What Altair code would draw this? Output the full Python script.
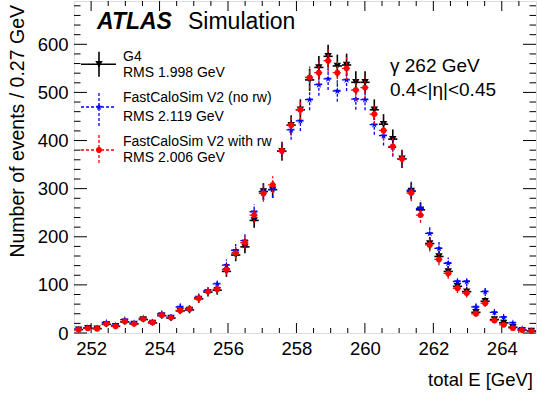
import altair as alt
import pandas as pd
import numpy as np

FONT = "Liberation Sans"

# ---- histogram binning ----
e_lo = 251.5
e_hi = 265.0
bin_w = 0.27

# ---- bin contents ----
g4 = [7, 10, 9, 18, 14, 23, 19, 28, 21, 36,
      31, 46, 48, 71, 85, 89, 128, 162, 179, 234,
      294, 298, 378, 432, 464, 526, 552, 575, 555, 557,
      521, 521, 464, 434, 403, 362, 295, 256, 186, 159,
      128, 97, 86, 43, 66, 28, 21, 12, 6, 4]
fcs_norw = [8, 11, 10, 22, 16, 28, 21, 31, 23, 40,
            33, 54, 51, 74, 88, 102, 141, 172, 192, 252,
            294, 298, 378, 422, 441, 485, 516, 528, 503, 526,
            486, 485, 433, 410, 386, 362, 297, 259, 207, 176,
            145, 107, 107, 54, 86, 43, 33, 21, 9, 5]
fcs_rw = [7, 10, 9, 19, 14, 24, 19, 29, 22, 37,
          32, 47, 50, 72, 86, 91, 132, 166, 188, 245,
          290, 308, 379, 432, 464, 531, 541, 566, 541, 550,
          505, 510, 455, 421, 388, 362, 291, 245, 183, 153,
          124, 93, 83, 40, 62, 26, 17, 10, 6, 4]

series_names = ["G4", "FastCaloSim V2 (no rw)", "FastCaloSim V2 with rw"]
rms_labels = ["RMS 1.998 GeV", "RMS 2.119 GeV", "RMS 2.006 GeV"]

x_labels = [252, 254, 256, 258, 260, 262, 264]
y_labels = [0, 100, 200, 300, 400, 500, 600]
x_minor = [v / 2 for v in range(505, 530) if v % 4 != 0]
y_minor = [v for v in range(20, 690, 20) if v % 100 != 0]

W, H = 462, 332
x_scale = alt.Scale(domain=[e_lo, e_hi], nice=False, zero=False)
y_scale = alt.Scale(domain=[0, 690], nice=False, zero=True)

X_AX = alt.Axis(values=x_labels, ticks=False, tickSize=0, domain=False, grid=False,
                labelFont=FONT, labelFontSize=18.5, labelColor="black",
                labelPadding=6, labelFlush=False, title=None, format="d")
Y_AX = alt.Axis(values=y_labels, ticks=False, tickSize=0, domain=False, grid=False,
                labelFont=FONT, labelFontSize=18.5, labelColor="black",
                labelPadding=6, title=None, format="d")


def make_df(vals):
    v = np.array(vals, dtype=float)
    c = e_lo + bin_w * (np.arange(len(v)) + 0.5)
    err = np.sqrt(v)
    return pd.DataFrame({"x": c, "xlo": c - bin_w / 2, "xhi": c + bin_w / 2,
                         "v": v, "lo": v - err, "hi": v + err})


STAR = ("M0,-1L0.2245,-0.309L0.951,-0.309L0.3633,0.118L0.5878,0.809L0,0.382"
        "L-0.5878,0.809L-0.3633,0.118L-0.951,-0.309L-0.2245,-0.309Z")


def series(vals, color, shape, size, dash_h, dash_v, width):
    base = alt.Chart(make_df(vals))
    hk = dict(color=color, strokeWidth=width)
    if dash_h:
        hk["strokeDash"] = dash_h
    vk = dict(color=color, strokeWidth=width)
    if dash_v:
        vk["strokeDash"] = dash_v
    hbar = base.mark_rule(**hk).encode(
        x=alt.X("xlo:Q", scale=x_scale, axis=X_AX), x2="xhi:Q",
        y=alt.Y("v:Q", scale=y_scale, axis=Y_AX))
    vbar = base.mark_rule(**vk).encode(
        x=alt.X("x:Q", scale=x_scale, axis=X_AX),
        y=alt.Y("lo:Q", scale=y_scale, axis=Y_AX), y2="hi:Q")
    pts = base.mark_point(filled=True, shape=shape, size=size, color=color,
                          opacity=1, strokeWidth=0).encode(
        x=alt.X("x:Q", scale=x_scale, axis=X_AX),
        y=alt.Y("v:Q", scale=y_scale, axis=Y_AX))
    return [hbar, vbar, pts]


def ticks_y(vals, length):
    d = alt.Chart(pd.DataFrame({"t": vals}))
    left = d.mark_rule(color="black", strokeWidth=1).encode(
        y=alt.Y("t:Q", scale=y_scale, axis=Y_AX), x=alt.value(0), x2=alt.value(length))
    right = d.mark_rule(color="black", strokeWidth=1).encode(
        y=alt.Y("t:Q", scale=y_scale, axis=Y_AX), x=alt.value(W), x2=alt.value(W - length))
    return [left, right]


def ticks_x(vals, length):
    d = alt.Chart(pd.DataFrame({"t": vals}))
    bot = d.mark_rule(color="black", strokeWidth=1).encode(
        x=alt.X("t:Q", scale=x_scale, axis=X_AX), y=alt.value(H), y2=alt.value(H - length))
    top = d.mark_rule(color="black", strokeWidth=1).encode(
        x=alt.X("t:Q", scale=x_scale, axis=X_AX), y=alt.value(0), y2=alt.value(length))
    return [bot, top]


ONE = alt.Data(values=[{"a": 1}])


def label(text, x, y, size, align="left", baseline="middle", angle=None, **kw):
    mk = dict(text=text, font=FONT, fontSize=size, align=align, baseline=baseline,
              color="black")
    if angle is not None:
        mk["angle"] = angle
    mk.update(kw)
    return alt.Chart(ONE).mark_text(**mk).encode(x=alt.value(x), y=alt.value(y))


def leg_entry(color, shape, size, y, vtop, vbot, dash_h, dash_v, width):
    hk = dict(color=color, strokeWidth=width)
    if dash_h:
        hk["strokeDash"] = dash_h
    vk = dict(color=color, strokeWidth=width)
    if dash_v:
        vk["strokeDash"] = dash_v
    c = alt.Chart(ONE)
    return [
        c.mark_rule(**hk).encode(x=alt.value(7), x2=alt.value(42), y=alt.value(y)),
        c.mark_rule(**vk).encode(x=alt.value(25), y=alt.value(vtop), y2=alt.value(vbot)),
        c.mark_point(filled=True, shape=shape, size=size, color=color, opacity=1,
                     strokeWidth=0).encode(x=alt.value(25), y=alt.value(y)),
    ]


layers = []
layers += ticks_y(y_labels, 13) + ticks_y(y_minor, 6.5)
layers += ticks_x(x_labels, 10) + ticks_x(x_minor, 5)

BLUE_DASH = [3, 2]
RED_DASH = [3, 2]
layers += series(g4, "black", "triangle-down", 55, None, None, 1.6)
layers += series(fcs_norw, "#0000ff", STAR, 55, BLUE_DASH, [3, 2], 1.3)
layers += series(fcs_rw, "#ff0000", "circle", 34, RED_DASH, [3, 2], 1.3)

# legend
layers += leg_entry("black", "triangle-down", 55, 63.3, 50.7, 75.7, None, None, 1.6)
layers += leg_entry("#0000ff", STAR, 55, 106, 92, 125, BLUE_DASH, [3, 2], 1.3)
layers += leg_entry("#ff0000", "circle", 34, 149, 134, 162, RED_DASH, [3, 2], 1.3)
leg_y = [56.3, 71.7, 97.3, 115.7, 141.3, 156.7]
leg_t = [series_names[0], rms_labels[0], series_names[1], rms_labels[1],
         series_names[2], rms_labels[2]]
for t, yy in zip(leg_t, leg_y):
    layers.append(label(t, 49, yy, 14))

# annotations
layers.append(label("ATLAS", 23, 21, 23, fontWeight="bold", fontStyle="italic"))
layers.append(label("Simulation", 114, 21, 23))
layers.append(label("γ 262 GeV", 316, 65, 19))
layers.append(label("0.4<|η|<0.45", 316, 89, 19))

# axis titles
layers.append(label("Number of events / 0.27 GeV", -56, 4, 19.5, align="right",
                    baseline="middle", angle=270))
layers.append(label("total E [GeV]", 459, 379, 18.5, align="right"))

chart = alt.layer(*layers).properties(
    width=W, height=H,
    padding={"left": 74, "top": 1, "right": 1, "bottom": 63},
    autosize=alt.AutoSizeParams(type="none"),
).configure_view(stroke="black", strokeWidth=1).configure(background="white")

chart.save("out.html", embed_options={"renderer": "svg", "actions": False})
